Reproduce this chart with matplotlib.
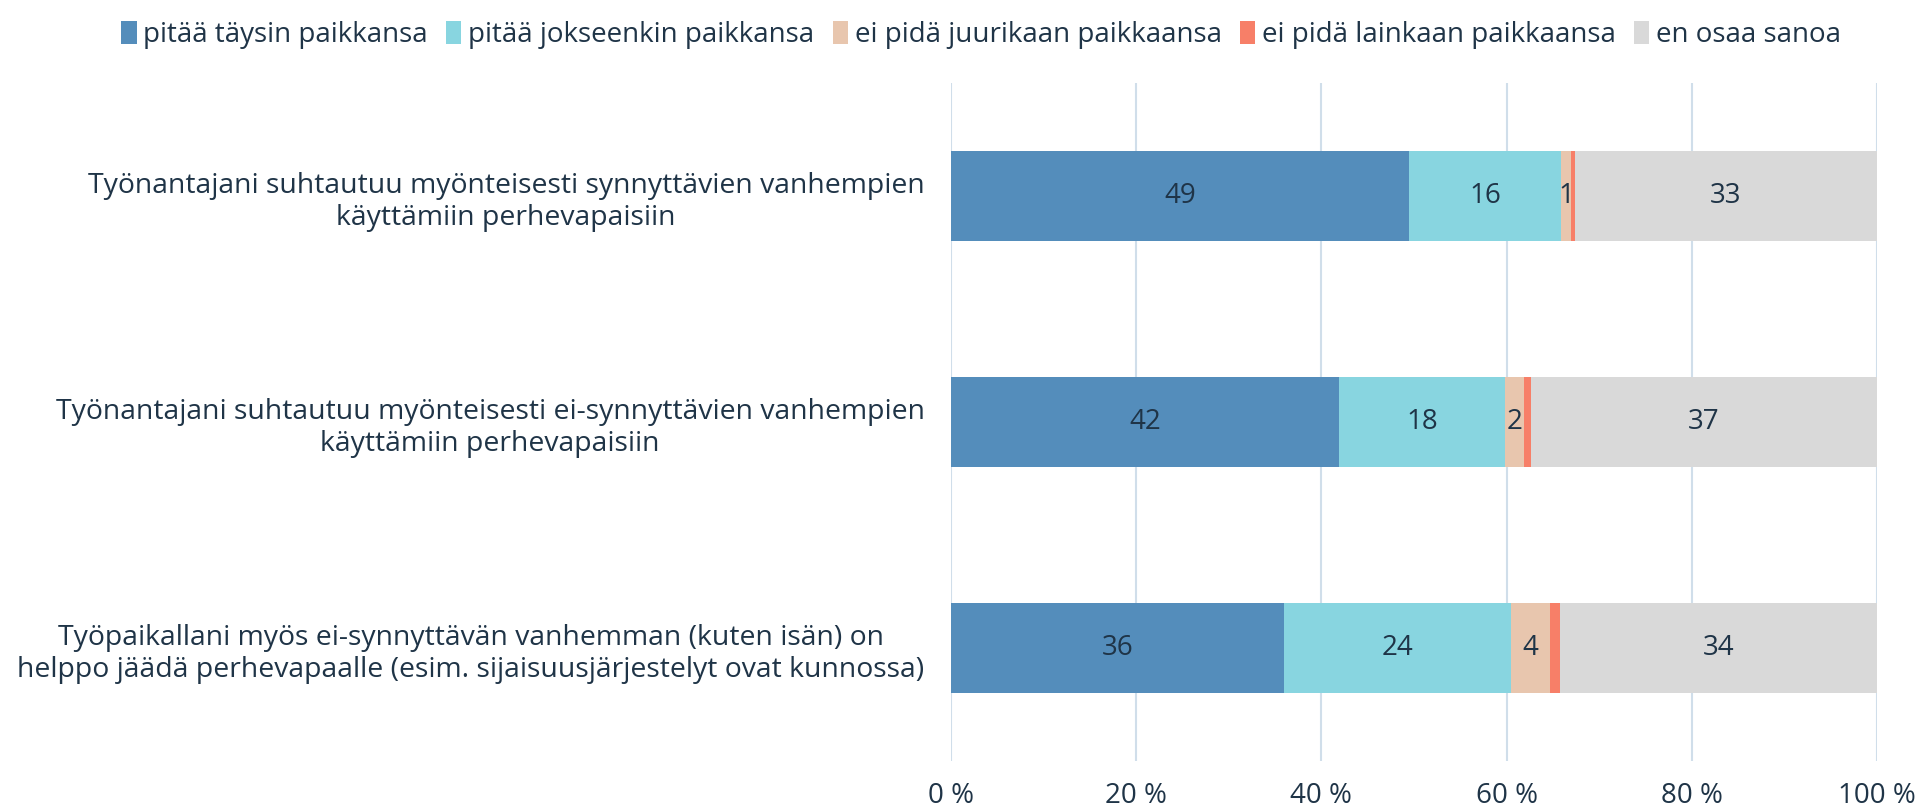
import matplotlib
matplotlib.use("Agg")
import matplotlib.pyplot as plt
import numpy as np

plt.rcParams['font.family'] = ['Open Sans', 'DejaVu Sans']

categories = [
    "Työnantajani suhtautuu myönteisesti synnyttävien vanhempien\nkäyttämiin perhevapaisiin",
    "Työnantajani suhtautuu myönteisesti ei-synnyttävien vanhempien\nkäyttämiin perhevapaisiin",
    "Työpaikallani myös ei-synnyttävän vanhemman (kuten isän) on\nhelppo jäädä perhevapaalle (esim. sijaisuusjärjestelyt ovat kunnossa)",
]
series_names = ["pitää täysin paikkansa", "pitää jokseenkin paikkansa",
                "ei pidä juurikaan paikkaansa", "ei pidä lainkaan paikkaansa",
                "en osaa sanoa"]
values = {
    "pitää täysin paikkansa":      [49.5, 41.9, 36.0],
    "pitää jokseenkin paikkansa":  [16.4, 17.9, 24.5],
    "ei pidä juurikaan paikkaansa": [1.1, 2.1, 4.15],
    "ei pidä lainkaan paikkaansa": [0.4, 0.7, 1.1],
    "en osaa sanoa":               [32.6, 37.4, 34.25],
}
labels = {
    "pitää täysin paikkansa":      ["49", "42", "36"],
    "pitää jokseenkin paikkansa":  ["16", "18", "24"],
    "ei pidä juurikaan paikkaansa": ["1", "2", "4"],
    "ei pidä lainkaan paikkaansa": ["", "", ""],
    "en osaa sanoa":               ["33", "37", "34"],
}
colors = ["#548DBB", "#88D5E0", "#E8C6AE", "#F77F68", "#D9D9D9"]
text_col = "#1F3447"
fs = 20

fig = plt.figure(figsize=(19.24, 8.11), dpi=100)
ax = fig.add_axes([951/1924, 1 - 761/811, (1877-951)/1924, (761-83)/811])

y = np.arange(len(categories))
left = np.zeros(len(categories))
for name, col in zip(series_names, colors):
    v = np.array(values[name])
    bars = ax.barh(y, v, left=left, height=0.395, color=col, label=name, zorder=3)
    ax.bar_label(bars, labels=labels[name], label_type='center',
                 fontsize=fs, color=text_col)
    left += v

ax.set_xlim(0, 100)
ax.set_ylim(2.5, -0.5)
ax.set_xticks(np.arange(0, 101, 20))
ax.set_xticklabels([f"{t} %" for t in range(0, 101, 20)], fontsize=fs, color=text_col)
ax.set_yticks(y)
ax.set_yticklabels(categories, fontsize=20.4, color=text_col, multialignment='center')
ax.tick_params(axis='both', length=0)
ax.tick_params(axis='y', pad=19)
ax.tick_params(axis='x', pad=15)
ax.grid(axis='x', color='#D0DEEA', linewidth=1.5, zorder=0)
for s in ax.spines.values():
    s.set_visible(False)

fig.legend(loc='upper center', bbox_to_anchor=(0.51, 1.005), ncol=5, frameon=False,
           fontsize=fs, handlelength=0.55, handleheight=0.9, handletextpad=0.25,
           columnspacing=0.65, labelcolor=text_col)

fig.savefig("out.png", dpi=100)
